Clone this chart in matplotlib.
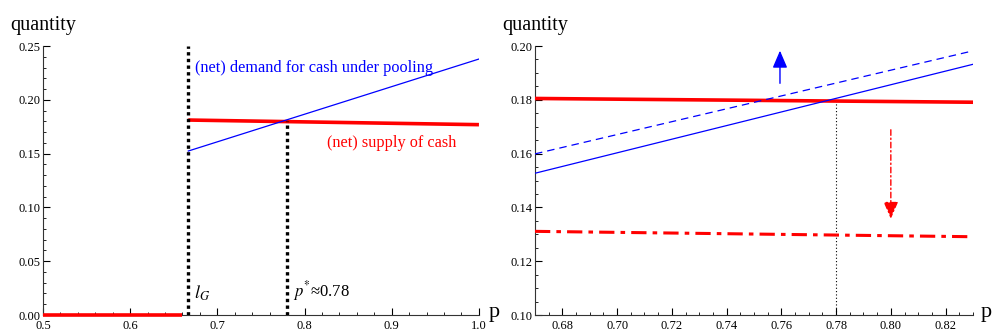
import matplotlib.pyplot as plt
import numpy as np
from matplotlib.ticker import MultipleLocator, FormatStrFormatter
from matplotlib.patches import FancyArrowPatch

plt.rcParams['font.family'] = ['Liberation Serif', 'DejaVu Serif']
plt.rcParams['mathtext.fontset'] = 'stix'

# left panel data
left_zero_p = [0.5, 0.66]
left_zero_q = [0.0, 0.0]
left_p = [2 / 3, 1.0]
left_supply = [0.1812, 0.1769]
left_demand = [0.1524, 0.2379]
l_G = 0.6667
p_star = 0.78
q_star = 0.1801

# right panel data
right_p = [0.67, 0.83]
right_supply = [0.1805, 0.1791]
right_demand = [0.1527, 0.1932]
right_demand_new = [0.1599, 0.1982]
right_supply_new = [0.1311, 0.1291]
arrow_up = (0.7595, 0.1851, 0.1993)
arrow_down = (0.80, 0.1699, 0.1347)

fig = plt.figure(figsize=(9.92, 3.31), dpi=100)
ax1 = fig.add_axes([0.0433, 0.0483, 0.4395, 0.8127])
ax2 = fig.add_axes([0.5393, 0.0483, 0.4415, 0.8127])

red = '#ff0000'
blue = '#0000ff'


def style_axes(ax, xmaj, xmin, ymaj, ymin, xfmt, yfmt):
    ax.spines['top'].set_visible(False)
    ax.spines['right'].set_visible(False)
    for s in ['left', 'bottom']:
        ax.spines[s].set_linewidth(0.8)
        ax.spines[s].set_color('#333333')
    ax.xaxis.set_major_locator(MultipleLocator(xmaj))
    ax.xaxis.set_minor_locator(MultipleLocator(xmin))
    ax.yaxis.set_major_locator(MultipleLocator(ymaj))
    ax.yaxis.set_minor_locator(MultipleLocator(ymin))
    ax.xaxis.set_major_formatter(FormatStrFormatter(xfmt))
    ax.yaxis.set_major_formatter(FormatStrFormatter(yfmt))
    ax.tick_params(which='major', direction='in', length=5, width=0.8, labelsize=9, pad=2)
    ax.tick_params(axis='x', which='major', pad=3.5)
    ax.tick_params(which='minor', direction='in', length=2.5, width=0.6)
    ax.set_ylabel('quantity', rotation=0, fontsize=14.5, labelpad=0)
    ax.yaxis.label.set_ha('left')
    ax.yaxis.label.set_va('baseline')
    ax.set_xlabel('p', fontsize=16, labelpad=0)
    ax.xaxis.label.set_ha('center')
    ax.xaxis.label.set_va('center')


# ---- left panel
ax1.plot(left_zero_p, left_zero_q, color=red, lw=2.6, solid_capstyle='butt', clip_on=False, zorder=3)
ax1.plot(left_p, left_supply, color=red, lw=2.6, solid_capstyle='butt', zorder=3)
ax1.plot(left_p, left_demand, color=blue, lw=0.9, zorder=3)
ax1.plot([l_G, l_G], [0, 0.25], color='black', lw=2.4, ls=(0, (1, 1)), zorder=4)
ax1.plot([p_star, p_star], [0, q_star], color='black', lw=2.4, ls=(0, (1, 1)), zorder=4)
ax1.text(0.6745, 0.2295, '(net) demand for cash under pooling', color=blue, fontsize=11.7, va='center')
ax1.text(0.8255, 0.160, '(net) supply of cash', color=red, fontsize=11.7, va='center')
ax1.text(0.6735, 0.020, '$l_G$', fontsize=13, va='center')
ax1.text(0.787, 0.022, '$p^{*}$≈0.78', fontsize=12, va='center')
ax1.set_xlim(0.5, 1.0)
ax1.set_ylim(0, 0.25)
style_axes(ax1, 0.1, 0.02, 0.05, 0.01, '%.1f', '%.2f')
ax1.yaxis.set_label_coords(-0.075, 1.06)
ax1.xaxis.set_label_coords(1.035, 0.01)

# ---- right panel
ax2.plot(right_p, right_supply, color=red, lw=2.6, zorder=3)
ax2.plot(right_p, right_demand, color=blue, lw=0.9, zorder=3)
ax2.plot(right_p, right_demand_new, color=blue, lw=0.9, ls=(0, (6, 4)), zorder=3)
ax2.plot(right_p, right_supply_new, color=red, lw=2.2, ls=(0, (5, 2, 1.5, 2)), zorder=3)
ax2.plot([p_star, p_star], [0.10, q_star], color='black', lw=0.8, ls=(0, (1, 2)), zorder=2)

up = FancyArrowPatch((arrow_up[0], arrow_up[1]), (arrow_up[0], arrow_up[2]),
                     arrowstyle='-|>,head_length=7,head_width=3', color=blue,
                     lw=1.0, mutation_scale=1.5, zorder=5)
ax2.add_patch(up)
down = FancyArrowPatch((arrow_down[0], arrow_down[1]), (arrow_down[0], arrow_down[2]),
                       arrowstyle='-|>,head_length=7,head_width=3', color=red,
                       lw=1.0, ls=(0, (4, 2, 1, 2)), mutation_scale=1.5, zorder=5)
ax2.add_patch(down)

ax2.set_xlim(0.67, 0.83)
ax2.set_ylim(0.10, 0.20)
style_axes(ax2, 0.02, 0.005, 0.02, 0.005, '%.2f', '%.2f')
ax2.yaxis.set_label_coords(-0.075, 1.06)
ax2.xaxis.set_label_coords(1.03, 0.01)

fig.savefig('out.png', dpi=100)
